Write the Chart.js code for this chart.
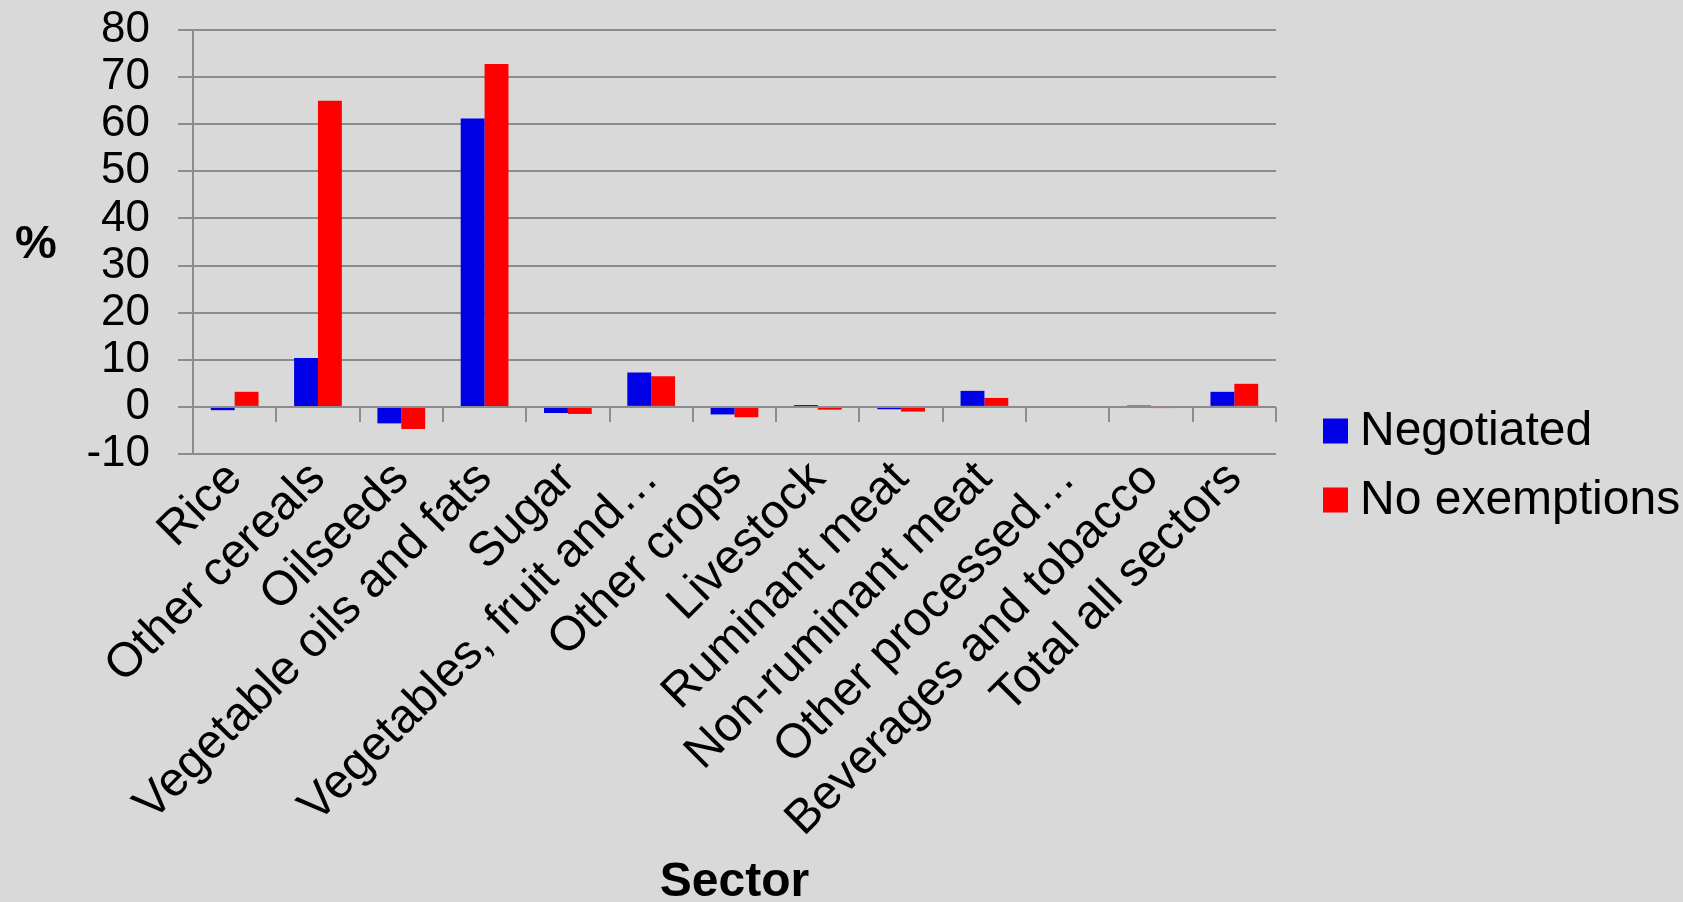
<!DOCTYPE html>
<html>
<head>
<meta charset="utf-8">
<script src="https://cdn.jsdelivr.net/npm/chart.js@4.4.0/dist/chart.umd.min.js"></script>
<style>
  html, body { margin: 0; padding: 0; background: #d9d9d9; }
  canvas { display: block; }
</style>
</head>
<body>
<canvas id="grafico" width="1683" height="902"></canvas>
<script>
// Datos
const sectores = [
  "Rice", "Other cereals", "Oilseeds", "Vegetable oils and fats", "Sugar",
  "Vegetables, fruit and\u2026", "Other crops", "Livestock", "Ruminant meat",
  "Non-ruminant meat", "Other processed\u2026", "Beverages and tobacco", "Total all sectors"
];
const negociado = [-0.7, 10.4, -3.5, 61.2, -1.3, 7.3, -1.6, 0.4, -0.5, 3.4, 0.0, 0.3, 3.2];
const sinExenciones = [3.2, 65.0, -4.7, 72.8, -1.5, 6.5, -2.2, -0.6, -1.0, 1.9, -0.15, -0.25, 4.9];
const ejeY = { min: -10, max: 80, paso: 10 };

const FUENTE = "'Liberation Sans', Arial, sans-serif";
const GRIS = "#8c8c8c";

// Marcas del eje de categorías en la línea de cero, etiqueta "%" y leyenda
const extras = {
  id: "extras",
  afterDatasetsDraw(chart) {
    const { ctx, chartArea, scales } = chart;
    const y0 = scales.y.getPixelForValue(0);
    const n = sectores.length;
    const banda = (chartArea.right - chartArea.left) / n;
    ctx.save();
    ctx.strokeStyle = GRIS;
    ctx.lineWidth = 2;
    ctx.beginPath();
    ctx.moveTo(chartArea.left, y0);
    ctx.lineTo(chartArea.right, y0);
    for (let i = 1; i <= n; i++) {
      const x = Math.round(chartArea.left + i * banda);
      ctx.moveTo(x, y0);
      ctx.lineTo(x, y0 + 15);
    }
    ctx.stroke();
    ctx.restore();
  },
  afterDraw(chart) {
    const { ctx } = chart;
    ctx.save();
    ctx.fillStyle = "#000";
    ctx.font = `bold 47px ${FUENTE}`;
    ctx.textAlign = "center";
    ctx.textBaseline = "middle";
    ctx.fillText("%", 36, 245);

    ctx.font = `48px ${FUENTE}`;
    ctx.textAlign = "left";
    chart.data.datasets.forEach((ds, i) => {
      const yc = 431 + i * 69;
      ctx.fillStyle = ds.backgroundColor;
      ctx.fillRect(1323, yc - 12.5, 25, 25);
      ctx.fillStyle = "#000";
      ctx.fillText(ds.label, 1360, yc + 1);
    });
    ctx.restore();
  }
};

new Chart(document.getElementById("grafico").getContext("2d"), {
  type: "bar",
  data: {
    labels: sectores,
    datasets: [
      { label: "Negotiated", data: negociado, backgroundColor: "#0000e6" },
      { label: "No exemptions", data: sinExenciones, backgroundColor: "#ff0000" }
    ]
  },
  options: {
    responsive: false,
    animation: false,
    events: [],
    categoryPercentage: 0.573,
    barPercentage: 1,
    layout: { padding: { top: 30, right: 407, bottom: 0, left: 0 } },
    plugins: {
      legend: { display: false },
      tooltip: { enabled: false }
    },
    scales: {
      x: {
        grid: { display: false },
        border: { display: false },
        ticks: {
          color: "#000",
          font: { family: FUENTE, size: 48, lineHeight: 1 },
          minRotation: 45,
          maxRotation: 45,
          autoSkip: false,
          padding: -8
        },
        title: {
          display: true,
          text: "Sector",
          color: "#000",
          font: { family: FUENTE, size: 48, weight: "bold", lineHeight: 0.8 },
          padding: 0
        },
        afterFit: (s) => { s.height = 448; s.paddingLeft = 0; s.paddingRight = 0; }
      },
      y: {
        min: ejeY.min,
        max: ejeY.max,
        grid: { color: GRIS, lineWidth: 2, tickLength: 15 },
        border: { display: true, color: GRIS, width: 2 },
        ticks: {
          stepSize: ejeY.paso,
          autoSkip: false,
          color: "#000",
          padding: 28,
          font: { family: FUENTE, size: 44, lineHeight: 1 }
        },
        afterFit: (s) => { s.width = 193; s.paddingTop = 0; s.paddingBottom = 0; }
      }
    }
  },
  plugins: [extras]
});
</script>
</body>
</html>
